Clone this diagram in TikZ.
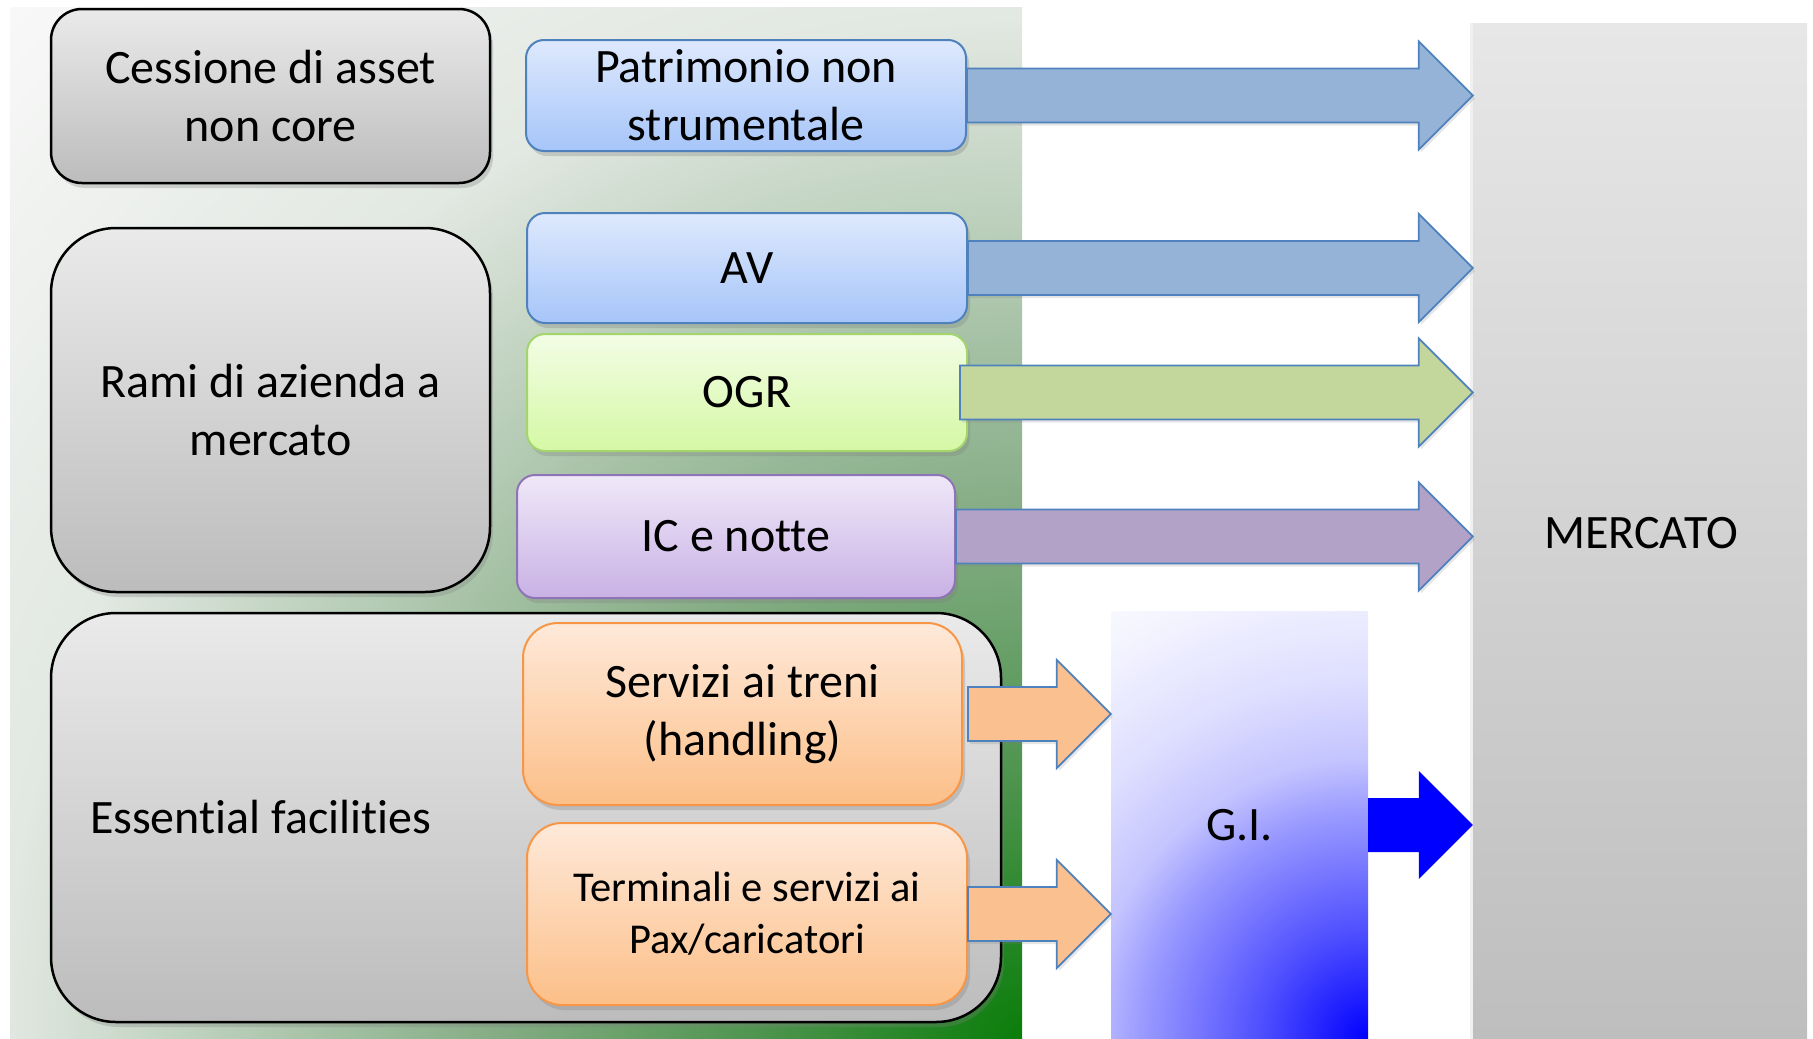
\documentclass[tikz,border=0pt]{standalone}
\usepackage{fontspec}
\setmainfont{Carlito}[Ligatures={NoCommon}]
\usetikzlibrary{calc,shadows}
\definecolor{grayT}{HTML}{EAEAEA}
\definecolor{grayB}{HTML}{BCBCBC}
\definecolor{blueT}{HTML}{DEE9FD}
\definecolor{blueB}{HTML}{A6C5F9}
\definecolor{blueL}{HTML}{4F81BD}
\definecolor{greenT}{HTML}{F3FDE6}
\definecolor{greenB}{HTML}{D5F8A4}
\definecolor{greenL}{HTML}{A3D46E}
\definecolor{purpT}{HTML}{EFE8F8}
\definecolor{purpB}{HTML}{C9B1E5}
\definecolor{purpL}{HTML}{8F73B9}
\definecolor{orT}{HTML}{FEE9D9}
\definecolor{orB}{HTML}{FCBF88}
\definecolor{orL}{HTML}{F79646}
\definecolor{arrBlue}{HTML}{95B3D7}
\definecolor{arrGreen}{HTML}{C3D69B}
\definecolor{arrPurp}{HTML}{B2A2C7}
\definecolor{arrOr}{HTML}{FAC090}
\definecolor{mercT}{HTML}{E7E7E7}
\definecolor{mercB}{HTML}{BEBEBE}
\definecolor{bgA}{HTML}{0A7D0A}
\definecolor{bgB}{HTML}{4C934C}
\definecolor{bgC}{HTML}{84AC84}
\definecolor{bgD}{HTML}{E2E8E2}
\definecolor{bgE}{HTML}{F8F8F8}
\definecolor{giA}{HTML}{0000FF}
\definecolor{giB}{HTML}{5050FF}
\definecolor{giC}{HTML}{9A9AFF}
\definecolor{giD}{HTML}{C4C4FF}
\definecolor{giE}{HTML}{DEDEFF}
\definecolor{giF}{HTML}{F4F4FF}
\pgfdeclareradialshading{bgrad}{\pgfpoint{0bp}{0bp}}{color(0bp)=(bgA); color(4.2bp)=(bgB); color(8.7bp)=(bgC); color(17bp)=(bgD); color(24bp)=(bgE); color(25bp)=(bgE); color(50bp)=(bgE)}
\pgfdeclareradialshading{girad}{\pgfpoint{0bp}{0bp}}{color(0bp)=(giA); color(4.2bp)=(giB); color(8.7bp)=(giC); color(10.8bp)=(giD); color(13.8bp)=(giE); color(17.9bp)=(giF); color(21.7bp)=(white); color(25bp)=(white); color(50bp)=(white)}
\newcommand{\blockarr}[3]{%
  \path[#1] let \p1=(#2), \p2=(#3) in
   (\x1,\y1+27pt) -- (\x2-54pt,\y1+27pt) -- (\x2-54pt,\y1+54pt) -- (\x2,\y1)
   -- (\x2-54pt,\y1-54pt) -- (\x2-54pt,\y1-27pt) -- (\x1,\y1-27pt) -- cycle;}
\tikzset{
  basebox/.style={inner sep=0pt, align=center, font=\fontsize{48}{58}\selectfont},
  boxshadow/.style={drop shadow={shadow xshift=3pt, shadow yshift=-5pt, opacity=0.3}},
  graybox/.style={basebox, boxshadow, draw=black, line width=2.5pt, top color=grayT, bottom color=grayB},
  bluebox/.style={basebox, boxshadow, draw=blueL, line width=2pt, top color=blueT, bottom color=blueB, rounded corners=18pt},
  greenbox/.style={basebox, boxshadow, draw=greenL, line width=2pt, top color=greenT, bottom color=greenB, rounded corners=18pt},
  purpbox/.style={basebox, boxshadow, draw=purpL, line width=2pt, top color=purpT, bottom color=purpB, rounded corners=18pt},
  orbox/.style={basebox, boxshadow, draw=orL, line width=2pt, top color=orT, bottom color=orB, rounded corners=35pt},
  arrline/.style={draw=blueL, line width=1.8pt, line join=miter, drop shadow={shadow xshift=2pt, shadow yshift=-3pt, opacity=0.2}},
}
\begin{document}
\begin{tikzpicture}[x=1pt,y=-1pt]
\useasboundingbox (0,0) rectangle (1813,1039);
% background panel
\begin{scope}
  \clip (10,7) rectangle (1022,1039);
  \shade[shading=bgrad] (1022,1039) circle (1500);
\end{scope}
% G.I. panel
\begin{scope}
  \clip (1111,611) rectangle (1368,1039);
  \shade[shading=girad] (1368,1039) circle (650);
\end{scope}
\node[inner sep=0pt, minimum width=257pt, minimum height=428pt, font=\fontsize{48}{58}\selectfont] (gi) at (1239.5,825) {G.I.};
% MERCATO
\node[inner sep=0pt, minimum width=334pt, minimum height=1016pt, top color=mercT, bottom color=mercB,
      drop shadow={shadow xshift=-3pt, shadow yshift=0pt, opacity=0.12}] (merc) at (1640,531) {};
\node[font=\fontsize{48}{58}\selectfont] (merctxt) at (1641,533) {MERCATO};
% left grey boxes
\node[graybox, rounded corners=31pt, minimum width=439pt, minimum height=174pt] (ces) at (270.5,96) {Cessione di asset\\non core};
\node[graybox, rounded corners=65pt, minimum width=439pt, minimum height=364pt] (rami) at (270.5,410) {Rami di azienda a\\mercato};
\node[graybox, rounded corners=65pt, minimum width=950pt, minimum height=409pt] (ess) at (526,817.5) {\makebox[872pt][l]{Essential facilities}};
% coloured boxes
\node[bluebox, minimum width=440pt, minimum height=111pt] (pat) at (746,95.5) {Patrimonio non\\strumentale};
\node[bluebox, minimum width=440pt, minimum height=110pt] (av) at (747,268) {AV};
\node[greenbox, minimum width=440pt, minimum height=117pt] (ogr) at (747,392.5) {OGR};
\node[purpbox, minimum width=438pt, minimum height=123pt] (ic) at (736,536.5) {IC e notte};
\node[orbox, minimum width=439pt, minimum height=182pt] (serv) at (742.5,714) {Servizi ai treni\\(handling)};
\node[orbox, minimum width=440pt, minimum height=182pt, font=\fontsize{42.5}{52}\selectfont] (term) at (747,914) {Terminali e servizi ai\\Pax/caricatori};
% block arrows
\blockarr{arrline, fill=arrBlue}{pat.east}{merc.west}
\blockarr{arrline, fill=arrBlue}{av.east}{merc.west}
\blockarr{arrline, fill=arrGreen}{$(ogr.east)+(-8,0)$}{merc.west}
\blockarr{arrline, fill=arrPurp}{ic.east}{merc.west}
\blockarr{arrline, fill=arrOr}{$(serv.east)+(5,0)$}{gi.west}
\blockarr{arrline, fill=arrOr}{term.east}{gi.west}
\blockarr{fill=giA}{gi.east}{merc.west}
\end{tikzpicture}
\end{document}
